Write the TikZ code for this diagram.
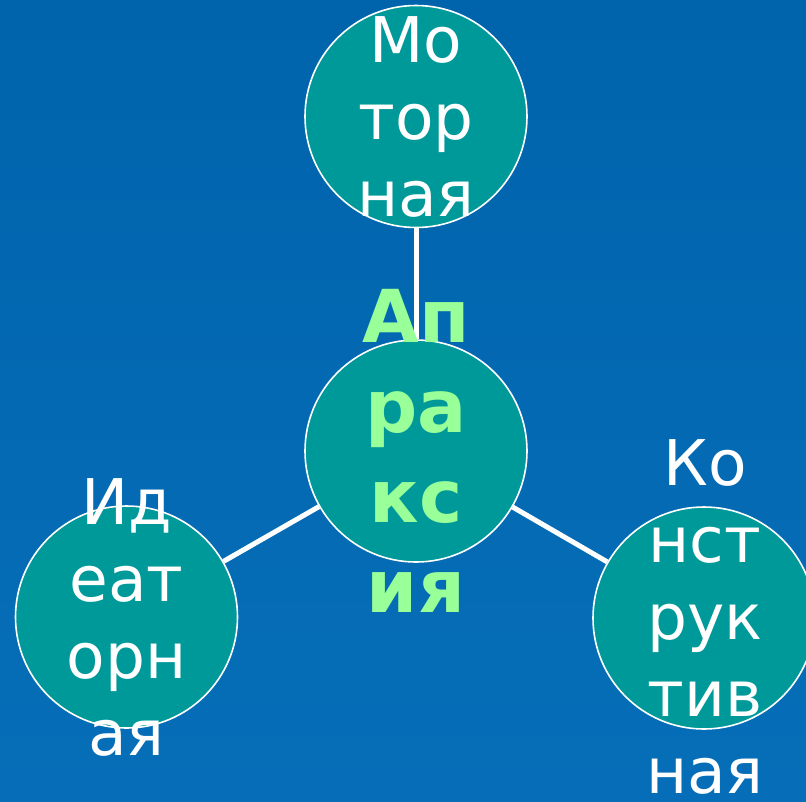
\documentclass[tikz,border=0pt]{standalone}
\usepackage{fontspec}
\setmainfont{DejaVu Sans}
\definecolor{bgtop}{RGB}{0,100,172}
\definecolor{bgbot}{RGB}{6,110,184}
\definecolor{teal}{RGB}{0,153,153}
\definecolor{lgreen}{RGB}{153,255,153}
\tikzset{
  ball/.style={circle, draw=white, line width=1.6pt, fill=teal, minimum size=222pt, inner sep=0pt},
  link/.style={draw=white, line width=5pt},
  wtext/.style={text=white, align=center, inner sep=0pt, font=\fontsize{63}{77}\selectfont},
  gtext/.style={text=lgreen, align=center, inner sep=0pt, font=\fontsize{73}{90}\selectfont\bfseries},
}
\begin{document}
\begin{tikzpicture}[x=1pt,y=-1pt]
\useasboundingbox (0,0) rectangle (806,801);
\clip (0,0) rectangle (806,801);
\shade[top color=bgtop, bottom color=bgbot] (0,0) rectangle (806,801);
\coordinate (pt) at (416,116.5);
\coordinate (pc) at (416,451);
\coordinate (pl) at (126.5,617);
\coordinate (pr) at (704,618);
\node[ball] (top) at (pt) {};
\node[ball] (ctr) at (pc) {};
\node[ball] (lft) at (pl) {};
\node[ball] (rgt) at (pr) {};
\draw[link] (top) -- (ctr);
\draw[link] (ctr) -- (lft);
\draw[link] (ctr) -- (rgt);
\node[wtext] (ttop) at (pt) {Мо\\тор\\ная};
\node[wtext] (tlft) at (pl) {Ид\\еат\\орн\\ая};
\node[wtext] (trgt) at (705,617) {Ко\\нст\\рук\\тив\\ная};
\node[gtext] (tctr) at (pc) {Ап\\ра\\кс\\ия};
\end{tikzpicture}
\end{document}
